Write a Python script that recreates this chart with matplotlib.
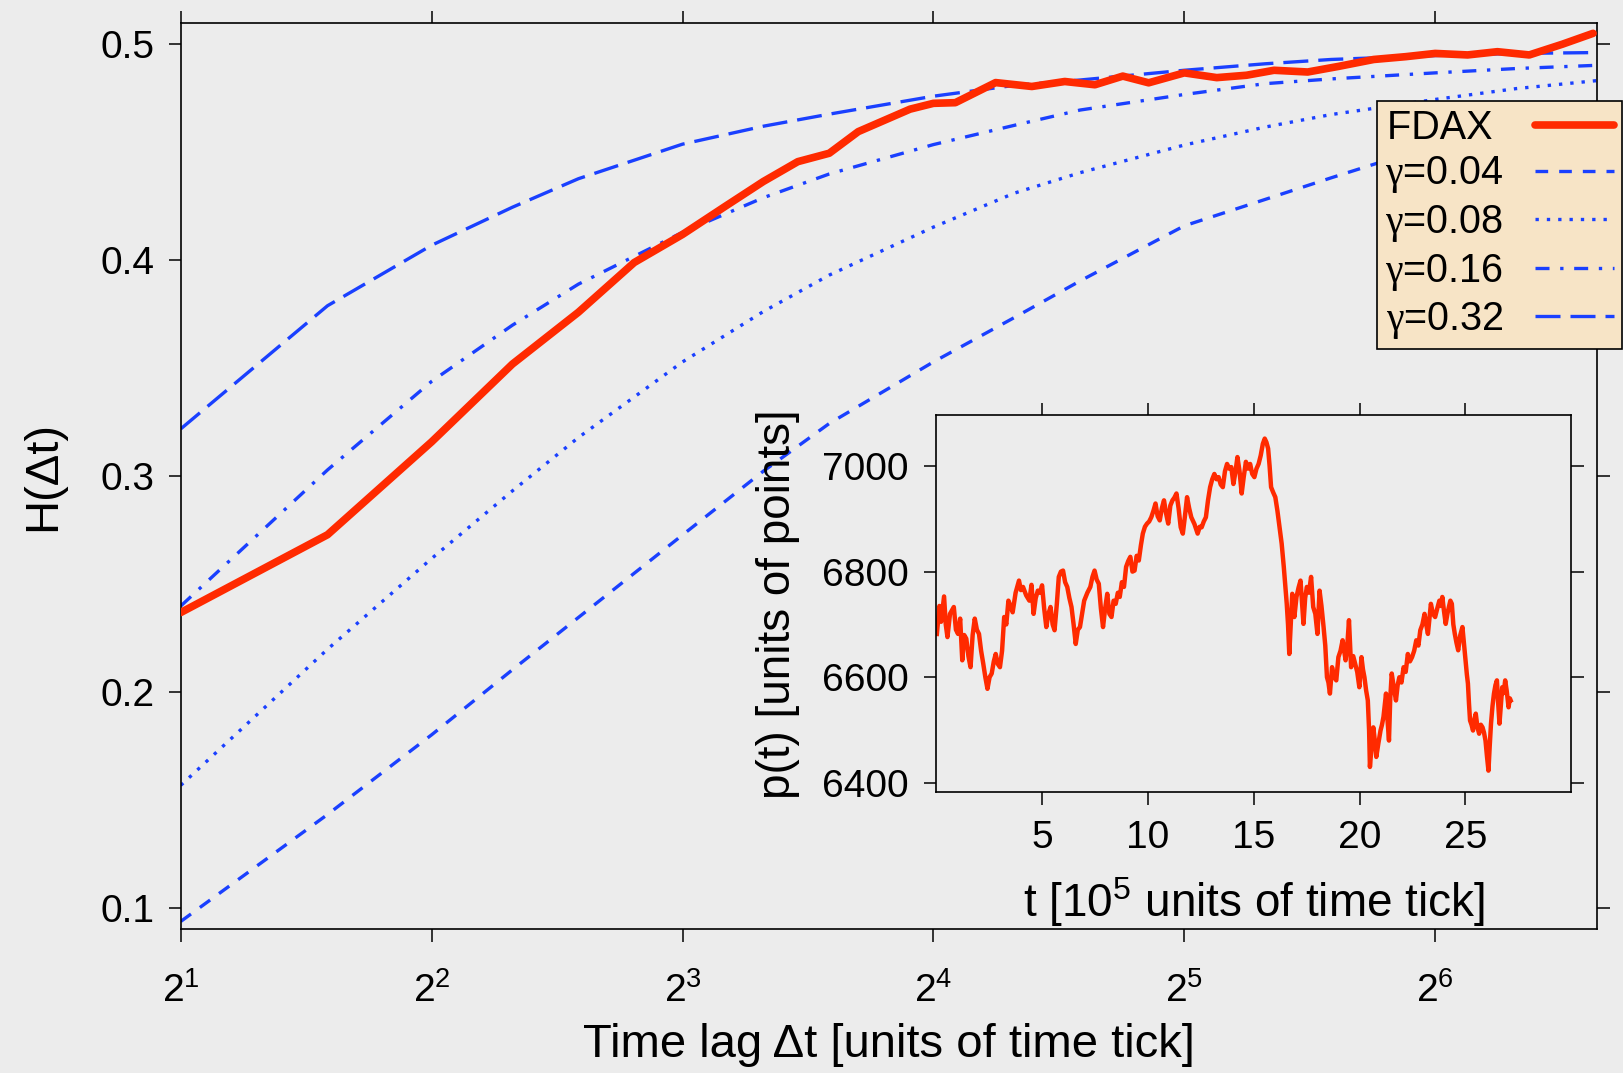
import numpy as np
import matplotlib
matplotlib.use("Agg")
import matplotlib.pyplot as plt
from matplotlib.ticker import NullLocator

# Fonts: Arial-like sans, with mathtext using the same family for exponents
plt.rcParams['font.family'] = ['Liberation Sans', 'DejaVu Sans']
plt.rcParams['mathtext.fontset'] = 'custom'
plt.rcParams['mathtext.rm'] = 'Liberation Sans'
plt.rcParams['mathtext.it'] = 'Liberation Serif'   # used only for the gamma glyph
plt.rcParams['mathtext.default'] = 'regular'

BG = '#ececec'
RED = '#ff2a00'
BLUE = '#1a40ff'

# Hurst exponent of FDAX vs time lag
fdax_lag = [2, 3, 4, 5, 6, 7, 8, 9, 10, 11, 12, 13, 15, 16, 17, 19, 21, 23, 25,
            27, 29, 32, 35, 38, 41, 45, 49, 54, 59, 64, 70, 76, 83, 91, 99]
fdax_h = [0.237, 0.273, 0.316, 0.352, 0.376, 0.399, 0.412, 0.425, 0.4365, 0.4457,
          0.4496, 0.4596, 0.4700, 0.4727, 0.4730, 0.4823, 0.4805, 0.4828, 0.4813,
          0.4853, 0.4822, 0.4868, 0.4846, 0.4857, 0.4880, 0.4872, 0.4898, 0.4930,
          0.4943, 0.4958, 0.4951, 0.4966, 0.4951, 0.5001, 0.5051]

# Model curves for different gamma
model_lag = [2, 3, 4, 5, 6, 8, 10, 12, 16, 20, 24, 32, 40, 48, 64, 80, 100]
h_g004 = [0.094, 0.1435, 0.1804, 0.2105, 0.2347, 0.2729, 0.3024, 0.3245, 0.353,
          0.3735, 0.3905, 0.416, 0.4282, 0.4382, 0.4535, 0.459, 0.465]
h_g008 = [0.157, 0.220, 0.262, 0.2933, 0.318, 0.353, 0.3763, 0.3932, 0.4154,
          0.4311, 0.4406, 0.4534, 0.4617, 0.4675, 0.4745, 0.4795, 0.4832]
h_g016 = [0.240, 0.303, 0.344, 0.370, 0.389, 0.413, 0.429, 0.440, 0.4536,
          0.4625, 0.4696, 0.4768, 0.4818, 0.4840, 0.4868, 0.4888, 0.4903]
h_g032 = [0.322, 0.379, 0.407, 0.4246, 0.4378, 0.4538, 0.4621, 0.4677, 0.476,
          0.481, 0.4835, 0.488, 0.491, 0.493, 0.4948, 0.4958, 0.4962]

# FDAX price path (inset), t in 1e5 ticks
price_t = [0.03, 0.15, 0.23, 0.37, 0.45, 0.53, 0.65, 0.83, 0.93, 1.03, 1.13, 1.23, 1.32, 1.42,
           1.52, 1.62, 1.72, 1.82, 1.92, 2.02, 2.12, 2.22, 2.32, 2.42, 2.52, 2.62, 2.72, 2.81,
           2.91, 3.01, 3.11, 3.21, 3.31, 3.41, 3.51, 3.61, 3.75, 3.91, 4.0, 4.10, 4.25, 4.40,
           4.50, 4.60, 4.70, 4.80, 4.90, 5.00, 5.10, 5.20, 5.30, 5.40, 5.50, 5.59, 5.70, 5.79,
           5.89, 5.99, 6.09, 6.19, 6.29, 6.39, 6.49, 6.59, 6.69, 6.79, 6.89, 6.99, 7.14, 7.28,
           7.38, 7.48, 7.58, 7.68, 7.78, 7.88, 7.98, 8.08, 8.18, 8.28, 8.38, 8.48, 8.58, 8.67,
           8.77, 8.87, 8.97, 9.07, 9.17, 9.27, 9.37, 9.47, 9.57, 9.67, 9.76, 9.86, 9.96, 10.06,
           10.16, 10.26, 10.36, 10.46, 10.56, 10.66, 10.76, 10.86, 10.96, 11.06, 11.16, 11.25,
           11.35, 11.45, 11.55, 11.65, 11.75, 11.85, 11.95, 12.05, 12.2, 12.35, 12.45, 12.54,
           12.64, 12.74, 12.84, 12.94, 13.04, 13.14, 13.24, 13.34, 13.44, 13.54, 13.64, 13.74,
           13.84, 13.94, 14.04, 14.14, 14.23, 14.33, 14.43, 14.53, 14.63, 14.73, 14.83, 14.93,
           15.03, 15.13, 15.23, 15.33, 15.43, 15.52, 15.60, 15.68, 15.75, 15.82, 15.92, 16.02,
           16.12, 16.22, 16.32, 16.42, 16.50, 16.56, 16.62, 16.68, 16.75, 16.82, 16.92, 17.02,
           17.12, 17.21, 17.35, 17.43, 17.51, 17.61, 17.71, 17.81, 17.91, 18.01, 18.11, 18.20,
           18.30, 18.38, 18.46, 18.53, 18.60, 18.70, 18.80, 18.90, 19.00, 19.10, 19.20, 19.34,
           19.42, 19.50, 19.60, 19.70, 19.79, 19.89, 19.99, 20.09, 20.16, 20.23, 20.31, 20.39,
           20.45, 20.49, 20.57, 20.65, 20.72, 20.79, 20.89, 20.99, 21.06, 21.13, 21.20, 21.25,
           21.32, 21.39, 21.45, 21.52, 21.62, 21.72, 21.80, 21.88, 21.98, 22.08, 22.18, 22.28,
           22.38, 22.48, 22.58, 22.68, 22.78, 22.87, 22.97, 23.07, 23.15, 23.23, 23.30, 23.37,
           23.47, 23.57, 23.67, 23.77, 23.84, 23.91, 23.99, 24.07, 24.15, 24.22, 24.29, 24.36,
           24.43, 24.50, 24.58, 24.66, 24.76, 24.86, 24.94, 25.02, 25.07, 25.12, 25.17, 25.22,
           25.29, 25.36, 25.42, 25.49, 25.57, 25.65, 25.73, 25.81, 25.88, 25.95, 26.02, 26.09,
           26.15, 26.21, 26.28, 26.35, 26.42, 26.49, 26.55, 26.61, 26.68, 26.74, 26.81, 26.88,
           26.95, 27.04, 27.10, 27.14]
price_p = [6682, 6735, 6705, 6753, 6700, 6676, 6720, 6733, 6690, 6682, 6711, 6632, 6680, 6673,
           6640, 6619, 6680, 6711, 6690, 6682, 6650, 6626, 6600, 6578, 6600, 6607, 6630, 6644,
           6625, 6619, 6650, 6714, 6700, 6745, 6735, 6723, 6760, 6783, 6765, 6771, 6755, 6745,
           6775, 6720, 6750, 6764, 6760, 6774, 6730, 6695, 6720, 6733, 6700, 6689, 6740, 6790,
           6800, 6802, 6780, 6771, 6750, 6733, 6700, 6663, 6690, 6695, 6720, 6745, 6760, 6771,
           6790, 6802, 6785, 6777, 6730, 6695, 6730, 6758, 6720, 6714, 6745, 6739, 6760, 6752,
           6780, 6771, 6809, 6820, 6828, 6800, 6802, 6830, 6821, 6850, 6872, 6885, 6891, 6895,
           6903, 6915, 6929, 6905, 6897, 6920, 6935, 6910, 6891, 6925, 6935, 6940,
           6948, 6920, 6884, 6872, 6905, 6941, 6920, 6903, 6890, 6872, 6885, 6884,
           6895, 6903, 6935, 6960, 6975, 6985, 6975, 6979, 6965, 6960, 6990, 7004,
           6995, 6998, 6966, 6990, 7017, 6990, 6948, 6980, 7008, 6995, 7004, 6985,
           6979, 6995, 7004, 7020, 7042, 7052, 7045, 7033, 7000, 6960, 6950, 6941,
           6915, 6884, 6853, 6809, 6770, 6739, 6700, 6644, 6700, 6758, 6714, 6752,
           6770, 6783, 6701, 6750, 6771, 6760, 6790, 6733, 6720, 6682, 6764, 6735,
           6695, 6660, 6600, 6590, 6569, 6619, 6600, 6594, 6638, 6650, 6670, 6632,
           6660, 6708, 6619, 6640, 6626, 6610, 6581, 6638, 6615, 6600, 6575, 6556,
           6500, 6430, 6470, 6505, 6480, 6449, 6475, 6499, 6510, 6525, 6550, 6569,
           6520, 6480, 6560, 6607, 6580, 6556, 6585, 6600, 6590, 6619, 6610, 6644,
           6630, 6638, 6650, 6670, 6660, 6689, 6700, 6720, 6700, 6682, 6710, 6739,
           6720, 6714, 6730, 6745, 6735, 6752, 6725, 6701, 6720, 6733, 6745, 6739,
           6700, 6682, 6665, 6651, 6680, 6695, 6660, 6626, 6605, 6588, 6550, 6518,
           6510, 6499, 6520, 6531, 6505, 6493, 6510, 6505, 6495, 6480, 6450, 6423,
           6470, 6512, 6545, 6569, 6585, 6594, 6550, 6512, 6550, 6581, 6570, 6594,
           6575, 6543, 6560, 6556]

x_ticks = [2, 4, 8, 16, 32, 64]
x_tick_labels = [r'$2^{1}$', r'$2^{2}$', r'$2^{3}$', r'$2^{4}$', r'$2^{5}$', r'$2^{6}$']
y_ticks = [0.1, 0.2, 0.3, 0.4, 0.5]
inset_x_ticks = [5, 10, 15, 20, 25]
inset_y_ticks = [6400, 6600, 6800, 7000]


def style_axes(ax, pad_x, pad_y):
    # Outward ticks on all four sides, labels only left/bottom
    ax.tick_params(which='major', direction='out', length=9, width=1.1,
                   top=True, right=True, labelsize=28, colors='black')
    ax.tick_params(axis='x', pad=pad_x)
    ax.tick_params(axis='y', pad=pad_y)
    for sp in ax.spines.values():
        sp.set_linewidth(1.2)
        sp.set_color('black')


fig = plt.figure(figsize=(16.24, 10.73), dpi=100, facecolor=BG)

# Main panel: H(dt) on log2 lag axis
ax = fig.add_axes([0.1113, 0.1342, 0.8719, 0.8446], facecolor=BG)
ax.plot(model_lag, h_g004, color=BLUE, lw=2.4, ls=(0, (3.8, 3.3)),
        label=r'$\mathit{\gamma}$=0.04')
ax.plot(model_lag, h_g008, color=BLUE, lw=2.4, ls=(0, (1.0, 2.4)),
        label=r'$\mathit{\gamma}$=0.08')
ax.plot(model_lag, h_g016, color=BLUE, lw=2.4, ls=(0, (4.2, 3.2, 1.0, 3.2)),
        label=r'$\mathit{\gamma}$=0.16')
ax.plot(model_lag, h_g032, color=BLUE, lw=2.4, ls=(0, (7.5, 3.0)),
        label=r'$\mathit{\gamma}$=0.32')
ax.plot(fdax_lag, fdax_h, color=RED, lw=5.5, solid_capstyle='round',
        solid_joinstyle='round', label='FDAX ', zorder=3)

ax.set_xscale('log', base=2)
ax.set_xlim(2, 100)
ax.set_ylim(0.0905, 0.51)
ax.set_xticks(x_ticks)
ax.set_xticklabels(x_tick_labels)
ax.xaxis.set_minor_locator(NullLocator())
ax.set_yticks(y_ticks)
ax.set_yticklabels([f'{v:.1f}' for v in y_ticks])
style_axes(ax, pad_x=22, pad_y=10)

ax.set_xlabel('Time lag Δt [units of time tick]', fontsize=34)
ax.set_ylabel('H(Δt)', fontsize=34)
ax.xaxis.set_label_coords(0.5, -0.104)
ax.yaxis.set_label_coords(-0.082, 0.5)

# Legend: FDAX first, text before handle
handles, labels = ax.get_legend_handles_labels()
order = [4, 0, 1, 2, 3]
leg = ax.legend([handles[i] for i in order], [labels[i] for i in order],
                loc='upper right', bbox_to_anchor=(1.018, 0.9136),
                borderaxespad=0, markerfirst=False, fontsize=28.5,
                handlelength=2.0, handletextpad=0.8, labelspacing=0.19,
                borderpad=0.2, fancybox=False, framealpha=1)
leg.get_frame().set_facecolor('#f7e4c6')
leg.get_frame().set_edgecolor('black')
leg.get_frame().set_linewidth(1.2)
leg.set_zorder(10)

# Inset: FDAX price path
ins = fig.add_axes([0.5765, 0.2616, 0.391, 0.3513], facecolor=BG)
ins.plot(price_t, price_p, color=RED, lw=3.2, solid_joinstyle='round')
ins.set_xlim(0, 30)
ins.set_ylim(6382, 7096)
ins.set_xticks(inset_x_ticks)
ins.set_yticks(inset_y_ticks)
style_axes(ins, pad_x=11, pad_y=11)
ins.set_xlabel(r't [10$^{5}$ units of time tick]', fontsize=33)
ins.set_ylabel('p(t) [units of points]', fontsize=33)
ins.xaxis.set_label_coords(0.5, -0.22)
ins.yaxis.set_label_coords(-0.215, 0.5)

fig.savefig('out.png', dpi=100, facecolor=BG)
